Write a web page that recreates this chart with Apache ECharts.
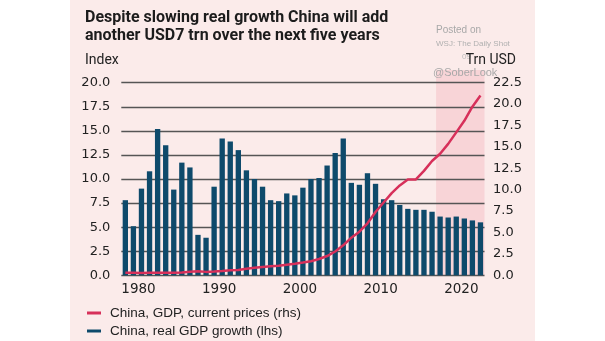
<!DOCTYPE html>
<html><head><meta charset="utf-8">
<script src="https://cdn.jsdelivr.net/npm/echarts@6/dist/echarts.min.js"></script>
<style>html,body{margin:0;padding:0;background:#fff}#c{width:605px;height:341px}</style>
</head><body><div id="c"></div>
<script>
const years = [1980,1981,1982,1983,1984,1985,1986,1987,1988,1989,
  1990,1991,1992,1993,1994,1995,1996,1997,1998,1999,
  2000,2001,2002,2003,2004,2005,2006,2007,2008,2009,
  2010,2011,2012,2013,2014,2015,2016,2017,2018,2019,
  2020,2021,2022,2023,2024];
const realGrowth = [7.8,5.1,9.0,10.8,15.2,13.5,8.9,11.7,11.2,4.2,
  3.9,9.2,14.2,13.9,13.0,10.9,10.0,9.2,7.8,7.7,
  8.5,8.3,9.1,10.0,10.1,11.4,12.7,14.2,9.6,9.4,
  10.6,9.5,7.9,7.8,7.3,6.9,6.8,6.8,6.6,6.1,
  6.0,6.1,5.9,5.7,5.5];
const gdpCurrent = [0.3,0.29,0.28,0.3,0.31,0.31,0.3,0.33,0.41,0.46,
  0.4,0.43,0.5,0.58,0.62,0.76,0.88,0.98,1.05,1.12,
  1.24,1.36,1.5,1.65,1.9,2.25,2.78,3.5,4.4,5.1,
  6.07,7.4,8.5,9.6,10.5,11.2,11.2,12.2,13.35,14.2,
  15.35,16.7,18.05,19.7,21.0];
const xTickLabels = [1980,1990,2000,2010,2020];
const forecastStart = 2019;
const forecastEnd = 2025;
const leftAxis = {min:0, max:20, interval:2.5};
const rightAxis = {min:0, max:22.5, interval:2.5};
const seriesNames = ['China, GDP, current prices (rhs)', 'China, real GDP growth (lhs)'];

const chart = echarts.init(document.getElementById('c'), null, {renderer:'canvas'});
const labelFont = 'DejaVu Sans';
const legendBase = {orient:'vertical', left:82, itemWidth:14, itemHeight:3, icon:'rect',
  textStyle:{fontSize:13.5, color:'#222', fontFamily:'Liberation Sans', padding:[0,0,0,4]}};
const option = {
  animation: false,
  backgroundColor: '#fbebea',
  graphic: [
    {type:'rect', left:0, top:0, shape:{width:70, height:341}, style:{fill:'#ffffff'}, silent:true},
    {type:'rect', left:535, top:0, shape:{width:70, height:341}, style:{fill:'#ffffff'}, silent:true},
    {type:'text', left:436, top:25, style:{text:'Posted on', fill:'#a8a8a8', font:'10px "Liberation Sans"'}},
    {type:'text', left:436, top:40, style:{text:'WSJ: The Daily Shot', fill:'#b0b0b0', font:'8px "Liberation Sans"'}},
    {type:'text', left:462, top:53, style:{text:'09', fill:'#bbbbbb', font:'8px "Liberation Sans"'}},
    {type:'text', left:433, top:67, style:{text:'@SoberLook', fill:'#a8a8a8', font:'11px "Liberation Sans"'}}
  ],
  title: [
    {text:'Despite slowing real growth China will add\nanother USD7 trn over the next five years', left:80, top:4,
     textStyle:{fontSize:16, fontWeight:'bold', lineHeight:18, color:'#1c1c1c', fontFamily:'Roboto'}},
    {text:'Index', left:80, top:48, textStyle:{fontSize:14, fontWeight:'normal', color:'#222', fontFamily:'Roboto'}},
    {text:'Trn USD', right:84, top:48, textStyle:{fontSize:14, fontWeight:'normal', color:'#222', fontFamily:'Roboto'}}
  ],
  legend: [
    Object.assign({}, legendBase, {data:[seriesNames[0]], top:301}),
    Object.assign({}, legendBase, {data:[seriesNames[1]], top:319})
  ],
  grid: {left:121.3, right:120.5, top:82.7, bottom:65.7, containLabel:false},
  xAxis: [
    {type:'category', data:years, axisLine:{show:false}, axisTick:{show:false}, axisLabel:{show:false}, splitLine:{show:false}},
    {type:'value', min:1980, max:forecastEnd, interval:10, position:'bottom', axisLine:{show:false}, axisTick:{show:false}, splitLine:{show:false},
     axisLabel:{align:'left', margin:7, fontSize:13.5, color:'#222', fontFamily:labelFont,
       showMaxLabel:false, formatter: v => xTickLabels.includes(v) ? String(v) : ''}}
  ],
  yAxis: [
    {type:'value', min:leftAxis.min, max:leftAxis.max, interval:leftAxis.interval, axisLine:{show:false}, axisTick:{show:false},
     splitLine:{lineStyle:{color:'#555555', width:1.3}},
     axisLabel:{margin:11, fontSize:13, color:'#222', fontFamily:labelFont, padding:[0,0,6,0], formatter: v => v.toFixed(1)}},
    {type:'value', position:'right', min:rightAxis.min, max:rightAxis.max, interval:rightAxis.interval, axisLine:{show:false}, axisTick:{show:false},
     splitLine:{show:false},
     axisLabel:{margin:8.5, fontSize:13, color:'#222', fontFamily:labelFont, padding:[0,0,6,0], formatter: v => v.toFixed(1)}}
  ],
  series: [
    {name:'forecast', type:'line', xAxisIndex:1, yAxisIndex:0, data:[], silent:true, z:-1, clip:false,
     markArea:{silent:true, z:-1, itemStyle:{color:'#f8d4d7'},
       data:[[{xAxis:forecastStart, y:70},{xAxis:forecastEnd, yAxis:0}]]}},
    {name:seriesNames[1], type:'bar', xAxisIndex:0, yAxisIndex:0, data:realGrowth, barWidth:'66%',
     itemStyle:{color:'#0e4a6b'}, z:2},
    {name:seriesNames[0], type:'line', xAxisIndex:0, yAxisIndex:1, data:gdpCurrent, symbol:'none',
     lineStyle:{color:'#d7305a', width:2.5}, itemStyle:{color:'#d7305a'}, z:3}
  ]
};
chart.setOption(option);
</script>
</body></html>
